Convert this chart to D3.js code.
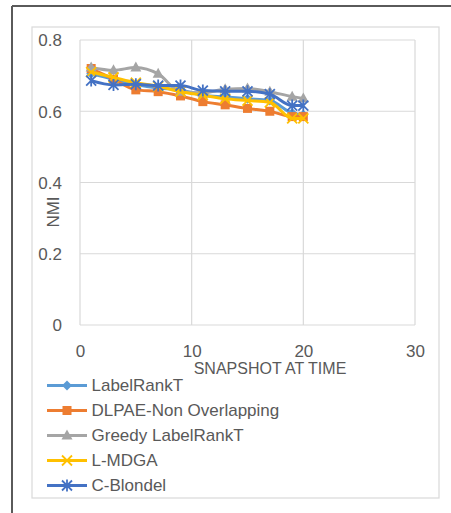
<!DOCTYPE html>
<html>
<head>
<meta charset="utf-8">
<script src="https://cdn.jsdelivr.net/npm/d3@7"></script>
<style>
  html, body { margin: 0; padding: 0; background: #fff; }
  svg { display: block; font-family: "Liberation Sans", Arial, sans-serif; }
</style>
</head>
<body>
<svg id="chart" width="451" height="513"></svg>
<script>
// ---- data ----
const snapshots = [1, 3, 5, 7, 9, 11, 13, 15, 17, 19, 20];
const labelRankT = [0.705, 0.69, 0.675, 0.665, 0.66, 0.645, 0.64, 0.635, 0.63, 0.595, 0.59];
const dlpae      = [0.72, 0.69, 0.66, 0.655, 0.643, 0.627, 0.618, 0.608, 0.60, 0.585, 0.585];
const greedy     = [0.723, 0.715, 0.723, 0.705, 0.655, 0.652, 0.662, 0.664, 0.655, 0.641, 0.636];
const lmdga      = [0.71, 0.695, 0.68, 0.67, 0.655, 0.645, 0.635, 0.63, 0.625, 0.58, 0.58];
const cBlondel   = [0.686, 0.674, 0.676, 0.672, 0.672, 0.658, 0.656, 0.656, 0.648, 0.616, 0.616];
const seriesNames = ["LabelRankT", "DLPAE-Non Overlapping", "Greedy LabelRankT", "L-MDGA", "C-Blondel"];
const xTicks = [0, 10, 20, 30];
const yTicks = [0, 0.2, 0.4, 0.6, 0.8];
const xTitle = "SNAPSHOT AT TIME";
const yTitle = "NMI";

// ---- styles ----
const colors = ["#5B9BD5", "#ED7D31", "#A5A5A5", "#FFC000", "#4472C4"];
const markers = ["diamond", "square", "triangle", "x", "star"];
const seriesValues = [labelRankT, dlpae, greedy, lmdga, cBlondel];

const svg = d3.select("#chart");

// outer frame (dark)
svg.append("line").attr("x1", 12).attr("y1", 6).attr("x2", 451).attr("y2", 6)
  .attr("stroke", "#5a5a5a").attr("stroke-width", 2);
svg.append("line").attr("x1", 12).attr("y1", 6).attr("x2", 12).attr("y2", 513)
  .attr("stroke", "#5a5a5a").attr("stroke-width", 2);

// chart area border
svg.append("rect").attr("x", 32).attr("y", 27).attr("width", 407).attr("height", 471)
  .attr("fill", "#fff").attr("stroke", "#d9d9d9").attr("stroke-width", 1.2);

const x = d3.scaleLinear().domain([0, 30]).range([80, 415]);
const y = d3.scaleLinear().domain([0, 0.8]).range([325, 40]);

// gridlines
const grid = svg.append("g").attr("stroke", "#d9d9d9").attr("stroke-width", 1.2);
yTicks.forEach(t => grid.append("line").attr("x1", x(0)).attr("x2", x(30)).attr("y1", y(t)).attr("y2", y(t)));
xTicks.forEach(t => grid.append("line").attr("x1", x(t)).attr("x2", x(t)).attr("y1", y(0)).attr("y2", y(0.8)));

// axes (labels only)
const yAxis = svg.append("g").attr("transform", `translate(${x(0)},0)`)
  .call(d3.axisLeft(y).tickValues(yTicks).tickFormat(d => d === 0 ? "0" : d3.format(".1f")(d)).tickSize(0).tickPadding(18));
const xAxis = svg.append("g").attr("transform", `translate(0,${y(0)})`)
  .call(d3.axisBottom(x).tickValues(xTicks).tickFormat(d3.format("d")).tickSize(0).tickPadding(17));
[yAxis, xAxis].forEach(a => {
  a.select(".domain").remove();
  a.selectAll("text").attr("fill", "#595959").style("font-size", "17px")
    .style("font-family", "'Liberation Sans', Arial, sans-serif");
});
yAxis.selectAll("text").attr("dy", "0.35em");
xAxis.selectAll("text").attr("dy", "0.35em").attr("y", 26.5);

// axis titles
svg.append("text").attr("x", 270).attr("y", 368).attr("dy", "0.35em")
  .attr("text-anchor", "middle").attr("fill", "#595959").style("font-size", "16px")
  .text(xTitle);
svg.append("text").attr("transform", "translate(53,212) rotate(-90)").attr("dy", "0.35em")
  .attr("text-anchor", "middle").attr("fill", "#595959").style("font-size", "17px")
  .text(yTitle);

// marker drawing
function drawMarker(g, type, color, cx, cy) {
  if (type === "diamond") {
    g.append("path").attr("d", `M${cx},${cy-5}L${cx+5},${cy}L${cx},${cy+5}L${cx-5},${cy}Z`).attr("fill", color);
  } else if (type === "square") {
    g.append("rect").attr("x", cx-4.5).attr("y", cy-4.5).attr("width", 9).attr("height", 9).attr("fill", color);
  } else if (type === "triangle") {
    g.append("path").attr("d", `M${cx},${cy-6}L${cx+5.5},${cy+4}L${cx-5.5},${cy+4}Z`).attr("fill", color);
  } else if (type === "x") {
    g.append("path").attr("d", `M${cx-5},${cy-5}L${cx+5},${cy+5}M${cx-5},${cy+5}L${cx+5},${cy-5}`)
      .attr("stroke", color).attr("stroke-width", 1.8).attr("fill", "none");
  } else if (type === "star") {
    g.append("path").attr("d", `M${cx-5},${cy-5}L${cx+5},${cy+5}M${cx-5},${cy+5}L${cx+5},${cy-5}M${cx},${cy-6}L${cx},${cy+6}`)
      .attr("stroke", color).attr("stroke-width", 1.8).attr("fill", "none");
  }
}

// series
const line = d3.line().x(d => x(d[0])).y(d => y(d[1])).curve(d3.curveMonotoneX);
seriesValues.forEach((vals, i) => {
  const pts = snapshots.map((s, j) => [s, vals[j]]);
  const g = svg.append("g");
  g.append("path").datum(pts).attr("d", line).attr("fill", "none")
    .attr("stroke", colors[i]).attr("stroke-width", 3).attr("stroke-linejoin", "round");
  pts.forEach(p => drawMarker(g, markers[i], colors[i], x(p[0]), y(p[1])));
});

// legend
const leg = svg.append("g");
seriesNames.forEach((name, i) => {
  const cy = 385.5 + i * 25;
  leg.append("line").attr("x1", 47).attr("x2", 87).attr("y1", cy).attr("y2", cy)
    .attr("stroke", colors[i]).attr("stroke-width", 3);
  drawMarker(leg, markers[i], colors[i], 67, cy);
  leg.append("text").attr("x", 91.5).attr("y", cy).attr("dy", "0.35em")
    .attr("fill", "#595959").style("font-size", "17px").text(name);
});
</script>
</body>
</html>
